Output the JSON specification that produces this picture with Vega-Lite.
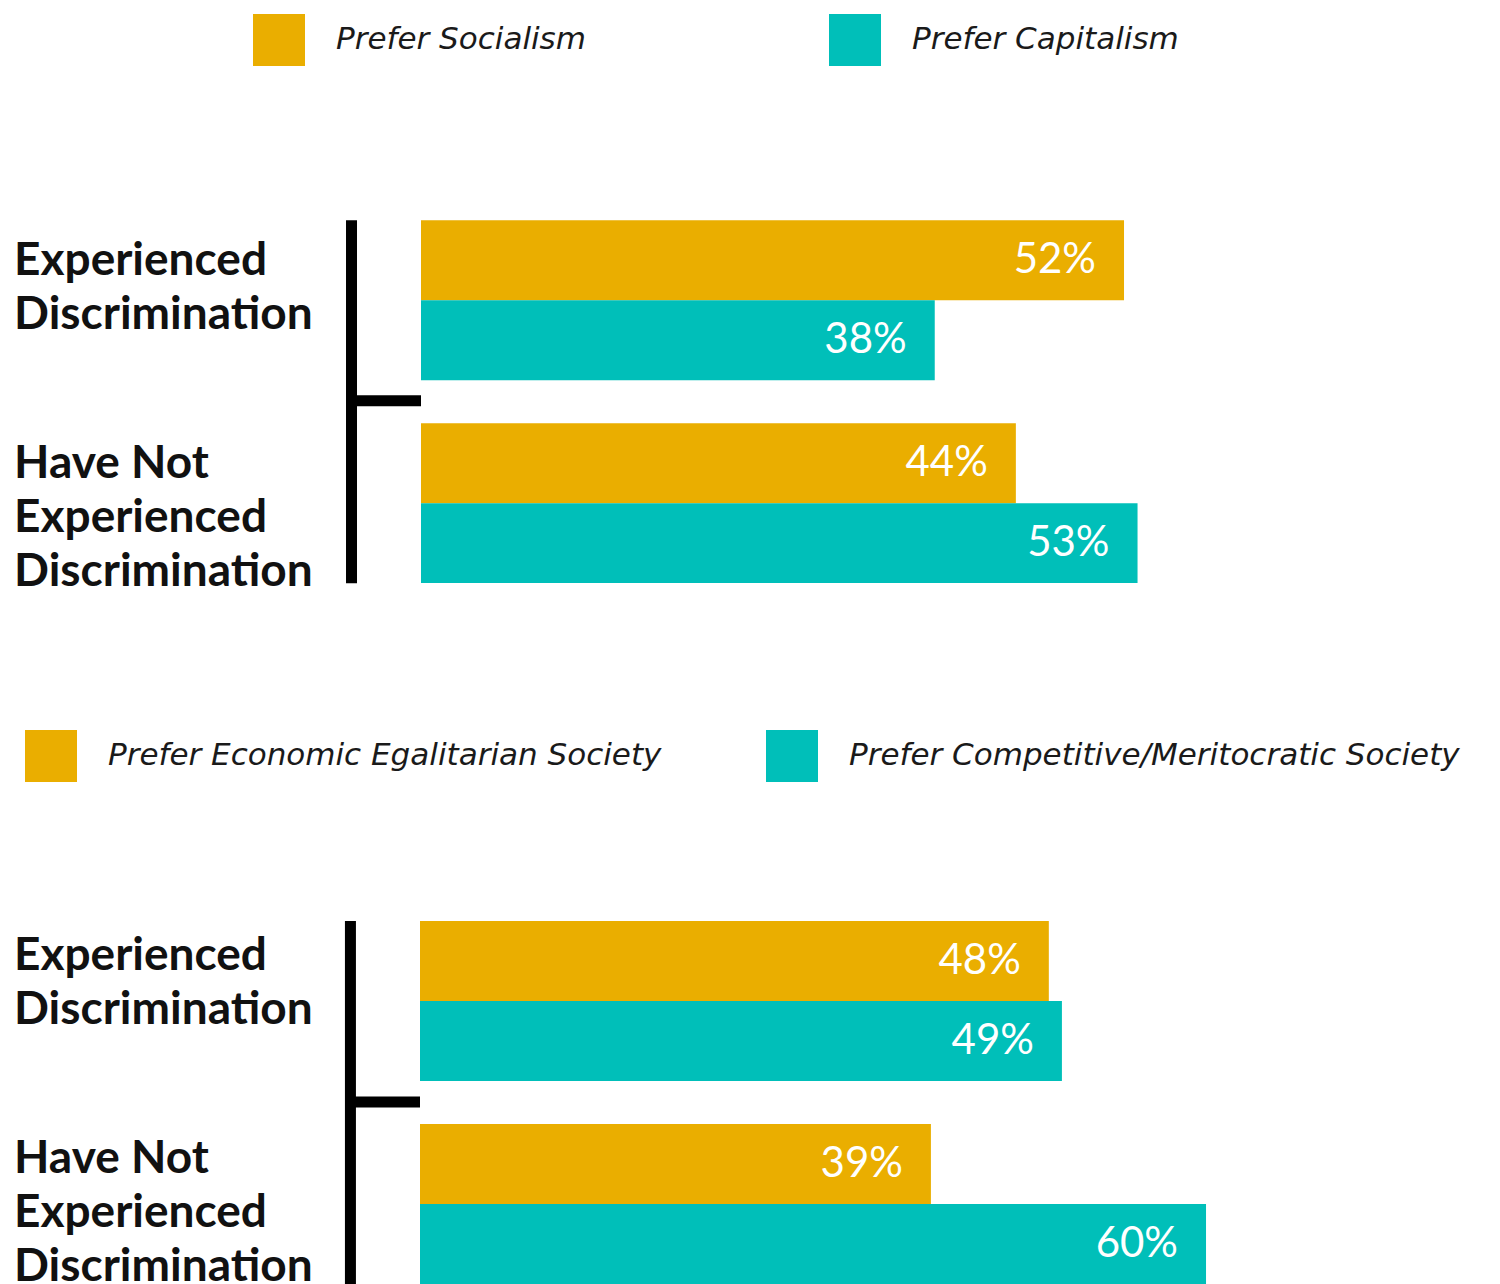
{
  "$schema": "https://vega.github.io/schema/vega-lite/v6.json",
  "padding": 0,
  "spacing": 0,
  "background": "white",
  "config": {"view": {"stroke": null}, "font": "Lato"},
  "resolve": {"scale": {"color": "independent", "x": "independent", "y": "independent", "yOffset": "independent"}, "legend": {"color": "independent"}},
  "vconcat": [
    {
      "width": 1500,
      "height": 650,
      "layer": [
        {
          "data": {"values": [
            {"group": "Experienced Discrimination", "series": "Prefer Socialism", "value": 52},
            {"group": "Experienced Discrimination", "series": "Prefer Capitalism", "value": 38},
            {"group": "Have Not Experienced Discrimination", "series": "Prefer Socialism", "value": 44},
            {"group": "Have Not Experienced Discrimination", "series": "Prefer Capitalism", "value": 53}
          ]},
          "transform": [{"calculate": "datum.value + '%'", "as": "label"}],
          "layer": [
            {
              "mark": {"type": "bar"},
              "encoding": {
                "x": {"field": "value", "type": "quantitative", "scale": {"domain": [-31.14, 79.81], "nice": false, "zero": false}, "axis": null},
                "y": {"field": "group", "type": "nominal", "scale": {"domain": ["Experienced Discrimination", "Have Not Experienced Discrimination"], "paddingInner": 0.2118, "paddingOuter": 0.707, "align": 0.767}, "axis": null},
                "yOffset": {"field": "series", "type": "nominal", "scale": {"domain": ["Prefer Socialism", "Prefer Capitalism"], "paddingInner": 0, "paddingOuter": 0}},
                "color": {"field": "series", "type": "nominal", "scale": {"domain": ["Prefer Socialism", "Prefer Capitalism"], "range": ["#EAAE00", "#00BFB9"]},
                  "legend": {"orient": "none", "legendX": 253, "legendY": 14, "direction": "horizontal", "title": null, "symbolType": "square", "symbolSize": 2704, "symbolStrokeWidth": 0, "symbolOpacity": 1, "labelFontSize": 31, "labelFont": "DejaVu Sans", "labelFontStyle": "oblique", "labelColor": "#1a1a1a", "labelOffset": 31, "columnPadding": 243, "padding": 0, "labelLimit": 1000}}
              }
            },
            {
              "mark": {"type": "text", "align": "right", "baseline": "middle", "dx": -28, "fontSize": 42, "color": "white"},
              "encoding": {
                "x": {"field": "value", "type": "quantitative"},
                "y": {"field": "group", "type": "nominal"},
                "yOffset": {"field": "series", "type": "nominal"},
                "text": {"field": "label"}
              }
            }
          ]
        },
        {
          "data": {"values": [
            {"group": "Experienced Discrimination", "label": "Experienced|Discrimination"},
            {"group": "Have Not Experienced Discrimination", "label": "Have Not|Experienced|Discrimination"}
          ]},
          "mark": {"type": "text", "align": "left", "baseline": "top", "lineBreak": "|", "lineHeight": 54, "dy": -61, "fontSize": 46, "fontWeight": "bold", "color": "#111111"},
          "encoding": {
            "x": {"datum": -30.1},
            "y": {"field": "group", "type": "nominal"},
            "text": {"field": "label"}
          }
        },
        {
          "data": {"values": [{"top": "Experienced Discrimination", "bottom": "Have Not Experienced Discrimination"}]},
          "layer": [
            {
              "mark": {"type": "rule", "strokeWidth": 11, "color": "black", "yOffset": -80, "y2Offset": 80},
              "encoding": {
                "x": {"datum": -5.14},
                "y": {"field": "top", "type": "nominal"},
                "y2": {"field": "bottom"}
              }
            },
            {
              "mark": {"type": "rule", "strokeWidth": 11, "color": "black", "yOffset": 100.5},
              "encoding": {
                "x": {"datum": -5.14},
                "x2": {"datum": 0},
                "y": {"field": "top", "type": "nominal"}
              }
            }
          ]
        }
      ]
    },
    {
      "width": 1500,
      "height": 635,
      "layer": [
        {
          "data": {"values": [
            {"group": "Experienced Discrimination", "series": "Prefer Economic Egalitarian Society", "value": 48},
            {"group": "Experienced Discrimination", "series": "Prefer Competitive/Meritocratic Society", "value": 49},
            {"group": "Have Not Experienced Discrimination", "series": "Prefer Economic Egalitarian Society", "value": 39},
            {"group": "Have Not Experienced Discrimination", "series": "Prefer Competitive/Meritocratic Society", "value": 60}
          ]},
          "transform": [{"calculate": "datum.value + '%'", "as": "label"}],
          "layer": [
            {
              "mark": {"type": "bar"},
              "encoding": {
                "x": {"field": "value", "type": "quantitative", "scale": {"domain": [-32.06, 82.44], "nice": false, "zero": false}, "axis": null},
                "y": {"field": "group", "type": "nominal", "scale": {"domain": ["Experienced Discrimination", "Have Not Experienced Discrimination"], "paddingInner": 0.2118, "paddingOuter": 0.670, "align": 0.996}, "axis": null},
                "yOffset": {"field": "series", "type": "nominal", "scale": {"domain": ["Prefer Economic Egalitarian Society", "Prefer Competitive/Meritocratic Society"], "paddingInner": 0, "paddingOuter": 0}},
                "color": {"field": "series", "type": "nominal", "scale": {"domain": ["Prefer Economic Egalitarian Society", "Prefer Competitive/Meritocratic Society"], "range": ["#EAAE00", "#00BFB9"]},
                  "legend": {"orient": "none", "legendX": 25, "legendY": 80, "direction": "horizontal", "title": null, "symbolType": "square", "symbolSize": 2704, "symbolStrokeWidth": 0, "symbolOpacity": 1, "labelFontSize": 31, "labelFont": "DejaVu Sans", "labelFontStyle": "oblique", "labelColor": "#1a1a1a", "labelOffset": 31, "columnPadding": 104, "padding": 0, "labelLimit": 1000}}
              }
            },
            {
              "mark": {"type": "text", "align": "right", "baseline": "middle", "dx": -28, "fontSize": 42, "color": "white"},
              "encoding": {
                "x": {"field": "value", "type": "quantitative"},
                "y": {"field": "group", "type": "nominal"},
                "yOffset": {"field": "series", "type": "nominal"},
                "text": {"field": "label"}
              }
            }
          ]
        },
        {
          "data": {"values": [
            {"group": "Experienced Discrimination", "label": "Experienced|Discrimination"},
            {"group": "Have Not Experienced Discrimination", "label": "Have Not|Experienced|Discrimination"}
          ]},
          "mark": {"type": "text", "align": "left", "baseline": "top", "lineBreak": "|", "lineHeight": 54, "dy": -67, "fontSize": 46, "fontWeight": "bold", "color": "#111111"},
          "encoding": {
            "x": {"datum": -30.99},
            "y": {"field": "group", "type": "nominal"},
            "text": {"field": "label"}
          }
        },
        {
          "data": {"values": [{"top": "Experienced Discrimination", "bottom": "Have Not Experienced Discrimination"}]},
          "layer": [
            {
              "mark": {"type": "rule", "strokeWidth": 11, "color": "black", "yOffset": -80, "y2Offset": 80},
              "encoding": {
                "x": {"datum": -5.31},
                "y": {"field": "top", "type": "nominal"},
                "y2": {"field": "bottom"}
              }
            },
            {
              "mark": {"type": "rule", "strokeWidth": 11, "color": "black", "yOffset": 101},
              "encoding": {
                "x": {"datum": -5.31},
                "x2": {"datum": 0},
                "y": {"field": "top", "type": "nominal"}
              }
            }
          ]
        }
      ]
    }
  ]
}
